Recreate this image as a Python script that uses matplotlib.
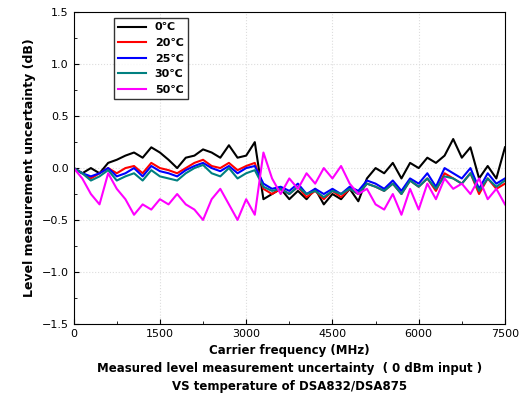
import matplotlib.pyplot as plt
import numpy as np

# Carrier frequency points (MHz), 150 MHz step
freq = list(range(0, 7501, 150))

t0 = [0.00, -0.05, 0.00, -0.05, 0.05, 0.08, 0.12, 0.15, 0.10, 0.20,
      0.15, 0.08, 0.00, 0.10, 0.12, 0.18, 0.15, 0.10, 0.22, 0.10,
      0.12, 0.25, -0.30, -0.25, -0.20, -0.30, -0.22, -0.30, -0.20, -0.35,
      -0.25, -0.30, -0.20, -0.32, -0.10, 0.00, -0.05, 0.05, -0.10, 0.05,
      0.00, 0.10, 0.05, 0.12, 0.28, 0.10, 0.20, -0.10, 0.02, -0.10, 0.20]
t20 = [0.00, -0.05, -0.10, -0.05, 0.00, -0.05, 0.00, 0.02, -0.05, 0.05,
       0.00, -0.02, -0.05, 0.00, 0.05, 0.08, 0.02, 0.00, 0.05, -0.02,
       0.02, 0.05, -0.20, -0.25, -0.20, -0.25, -0.18, -0.28, -0.22, -0.30,
       -0.22, -0.28, -0.20, -0.25, -0.15, -0.18, -0.22, -0.15, -0.25, -0.12,
       -0.18, -0.10, -0.22, -0.05, -0.10, -0.15, -0.05, -0.25, -0.10, -0.20, -0.15]
t25 = [0.00, -0.05, -0.08, -0.05, 0.00, -0.08, -0.05, 0.00, -0.08, 0.02,
       -0.03, -0.05, -0.08, -0.02, 0.02, 0.05, 0.00, -0.03, 0.02, -0.05,
       0.00, 0.02, -0.15, -0.20, -0.18, -0.22, -0.15, -0.25, -0.20, -0.25,
       -0.20, -0.25, -0.18, -0.22, -0.12, -0.15, -0.20, -0.12, -0.22, -0.10,
       -0.15, -0.05, -0.18, 0.00, -0.05, -0.10, 0.00, -0.20, -0.05, -0.15, -0.10]
t30 = [0.00, -0.05, -0.12, -0.08, -0.02, -0.12, -0.08, -0.05, -0.12, -0.02,
       -0.08, -0.10, -0.12, -0.05, 0.00, 0.03, -0.05, -0.08, 0.00, -0.10,
       -0.05, -0.02, -0.18, -0.22, -0.20, -0.25, -0.18, -0.25, -0.22, -0.28,
       -0.22, -0.25, -0.20, -0.25, -0.15, -0.18, -0.22, -0.15, -0.25, -0.12,
       -0.18, -0.10, -0.20, -0.08, -0.10, -0.15, -0.05, -0.22, -0.10, -0.18, -0.12]
t50 = [0.00, -0.10, -0.25, -0.35, -0.05, -0.20, -0.30, -0.45, -0.35, -0.40,
       -0.30, -0.35, -0.25, -0.35, -0.40, -0.50, -0.30, -0.20, -0.35, -0.50,
       -0.30, -0.45, 0.15, -0.10, -0.25, -0.10, -0.20, -0.05, -0.15, 0.00,
       -0.10, 0.02, -0.15, -0.25, -0.20, -0.35, -0.40, -0.25, -0.45, -0.20,
       -0.40, -0.15, -0.30, -0.10, -0.20, -0.15, -0.25, -0.10, -0.30, -0.20, -0.35]

series = [(t0, 'black', '0℃'), (t20, 'red', '20℃'), (t25, 'blue', '25℃'),
          (t30, '#008080', '30℃'), (t50, 'magenta', '50℃')]

plt.rcParams['font.family'] = ['DejaVu Sans']
fig, ax = plt.subplots(figsize=(5.26, 4.15), dpi=100)
fig.subplots_adjust(left=0.14, right=0.96, top=0.97, bottom=0.22)

for vals, c, lab in series:
    ax.plot(freq, vals, color=c, lw=1.5, label=lab)

ax.set_xlim(0, 7500)
ax.set_ylim(-1.5, 1.5)
ax.set_xticks([0, 1500, 3000, 4500, 6000, 7500])
ax.set_yticks(np.arange(-1.5, 1.51, 0.5))
ax.set_xticks(np.arange(750, 7500, 1500), minor=True)
ax.set_yticks(np.arange(-1.25, 1.5, 0.5), minor=True)
ax.grid(True, which='major', color='#dddddd', ls=':', lw=0.8)
ax.tick_params(labelsize=8, direction='in')
ax.tick_params(which='minor', direction='in')
ax.set_ylabel('Level measurement uncertainty (dB)', fontsize=9, fontweight='bold')
ax.set_xlabel('Carrier frequency (MHz)\nMeasured level measurement uncertainty  ( 0 dBm input )\nVS temperature of DSA832/DSA875',
              fontsize=8.5, fontweight='bold', linespacing=1.5)
leg = ax.legend(loc='upper left', bbox_to_anchor=(0.08, 1.0), fontsize=8,
                frameon=True, fancybox=False, edgecolor='black', handlelength=2.5,
                prop={'weight': 'bold', 'size': 8})
fig.savefig('out.png')
